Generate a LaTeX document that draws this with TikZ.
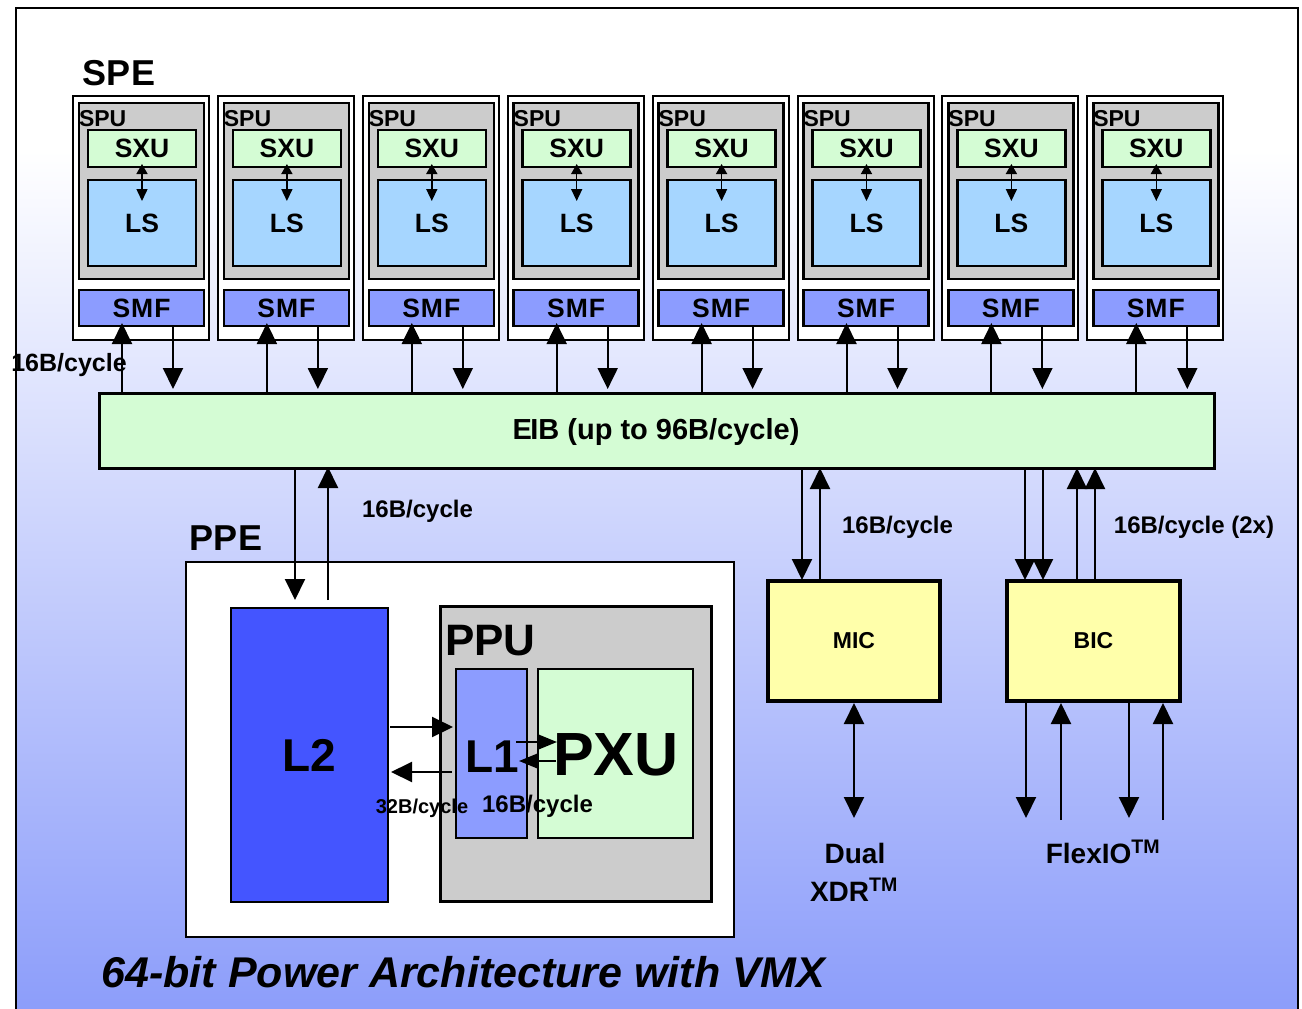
\documentclass[tikz,border=0pt]{standalone}
\usepackage{fontspec}
\setmainfont{Liberation Sans}
\usetikzlibrary{arrows.meta,calc}
\definecolor{bgblue}{RGB}{140,157,250}
\definecolor{spugray}{RGB}{204,204,204}
\definecolor{lgreen}{RGB}{212,252,212}
\definecolor{lsblue}{RGB}{166,214,255}
\definecolor{smfblue}{RGB}{140,156,255}
\definecolor{ltwo}{RGB}{68,85,255}
\definecolor{cyel}{RGB}{255,255,170}
\newcommand{\fsz}[1]{\fontsize{#1}{#1}\selectfont\bfseries}
\begin{document}
\begin{tikzpicture}[x=1pt,y=-1pt,
  blk/.style={draw=black, inner sep=0pt, outer sep=0pt, anchor=north west},
  lbl/.style={inner sep=0pt, outer sep=0pt, anchor=base},
  bigarr/.style={line width=2pt, -{Triangle[width=20pt,length=21pt]}},
  bigboth/.style={line width=2pt, {Triangle[width=20pt,length=21pt]}-{Triangle[width=20pt,length=21pt]}},
  midarr/.style={line width=2pt, -{Triangle[width=15pt,length=19pt]}},
  smallboth/.style={line width=1.5pt, {Triangle[width=11pt,length=10pt]}-{Triangle[width=11pt,length=12pt]}}
]
\useasboundingbox (0,0) rectangle (1302,1009);
% background
\fill[white] (0,0) rectangle (1302,1009);
\fill[white] (16,8) rectangle (1298,150);
\shade[top color=white, bottom color=bgblue] (16,150) rectangle (1298,1012);
\draw[line width=2pt] (16,1015) -- (16,8) -- (1298,8) -- (1298,1015);

% EIB
\node[blk, fill=lgreen, line width=3pt, minimum width=1115pt, minimum height=75pt] (eib) at (99,393) {};
\node[lbl] (teib) at (656,439) {\fsz{29}E\kern-1.5pt IB (up to 96B/cycle)};

% SPE columns
\foreach \i in {0,...,7}{
  \pgfmathsetmacro\xo{73+144.9*\i}
  \node[blk, fill=white, line width=2pt, minimum width=136pt, minimum height=244pt] (spe\i) at (\xo,96) {};
  \node[blk, fill=spugray, line width=2.5pt, minimum width=125pt, minimum height=176pt] (spu\i) at (\xo+6,103) {};
  \node[blk, fill=lgreen, line width=2.5pt, minimum width=108pt, minimum height=37pt] (sxu\i) at (\xo+15,130) {\fsz{26.5}SXU};
  \node[blk, fill=lsblue, line width=2.5pt, minimum width=108pt, minimum height=86pt] (ls\i) at (\xo+15,180) {\fsz{26.5}LS};
  \node[blk, fill=smfblue, line width=2.5pt, minimum width=125pt, minimum height=36pt] (smf\i) at (\xo+6,290) {\fsz{26.5}S\kern1pt M\kern1pt F};
  \node[inner sep=0pt, outer sep=0pt, anchor=base west] (tspu\i) at (\xo+6,126) {\fsz{23}SPU};
  \draw[smallboth] ($(sxu\i.south)+(0,-3)$) -- ($(ls\i.north)+(0,21)$);
  \coordinate (cu\i) at (\xo+49,0);
  \coordinate (cd\i) at (\xo+100,0);
  \draw[bigarr, shorten >=-3pt] (eib.north -| cu\i) -- (smf\i.south -| cu\i);
  \draw[bigarr, shorten >=4pt] (smf\i.south -| cd\i) -- (eib.north -| cd\i);
}
\node[lbl] (tspe) at (119,85) {\fsz{36}SPE};
\node[lbl] (t16a) at (69,371) {\fsz{25}16B/cycle};

% PPE
\node[blk, fill=white, line width=1.5pt, minimum width=548pt, minimum height=375pt] (ppe) at (186,562) {};
\node[lbl] (tppe) at (226,550) {\fsz{36}PPE};
\node[blk, fill=ltwo, line width=2pt, minimum width=157pt, minimum height=294pt] (l2) at (231,608) {\fsz{46}L2};
\node[blk, fill=spugray, line width=3pt, minimum width=271pt, minimum height=295pt] (ppu) at (440,606) {};
\node[inner sep=0pt, outer sep=0pt, anchor=base west] (tppu) at (445,655) {\fsz{44}PPU};
\node[blk, fill=smfblue, line width=2pt, minimum width=71pt, minimum height=169pt] (l1) at (456,669) {};
\node[blk, fill=lgreen, line width=2pt, minimum width=155pt, minimum height=169pt] (pxu) at (538,669) {};
\node[inner sep=0pt, outer sep=0pt, anchor=base west] (tl1) at (465,772) {\fsz{46}L1};
\node[lbl] (tpxu) at (616,775) {\fsz{61}PXU};

% EIB <-> PPE
\coordinate (p1) at (295,0);
\coordinate (p2) at (328,0);
\draw[bigarr, shorten >=8pt] (eib.south -| p1) -- (l2.north -| p1);
\draw[bigarr, shorten <=8pt, shorten >=-1pt] (l2.north -| p2) -- (eib.south -| p2);
\node[lbl] (t16b) at (417.5,517) {\fsz{24}16B/cycle};

% L2 <-> L1
\coordinate (r1) at (0,727);
\coordinate (r2) at (0,772);
\draw[bigarr, shorten <=2pt, shorten >=3pt] (l2.east |- r1) -- (l1.west |- r1);
\draw[bigarr, shorten <=4pt, shorten >=3pt] (l1.west |- r2) -- (l2.east |- r2);
% L1 <-> PXU
\coordinate (q1) at (516,742);
\coordinate (q2) at (557,742);
\coordinate (q3) at (556,761);
\coordinate (q4) at (519,761);
\draw[midarr] (q1) -- (q2);
\draw[midarr] (q3) -- (q4);
\node[lbl] (t32) at (422,813) {\fsz{20}32B/cycle};
\node[lbl] (t16c) at (537.5,812) {\fsz{24}16B/cycle};

% MIC / BIC
\node[blk, fill=cyel, line width=3.5pt, minimum width=172pt, minimum height=120pt] (mic) at (768,581) {\fsz{23}MIC};
\node[blk, fill=cyel, line width=3.5pt, minimum width=173pt, minimum height=120pt] (bic) at (1007,581) {\fsz{23}BIC};

\coordinate (m1) at (802,0);
\coordinate (m2) at (820,0);
\draw[bigarr, shorten >=1pt] (eib.south -| m1) -- (mic.north -| m1);
\draw[bigarr] (mic.north -| m2) -- (eib.south -| m2);
\node[lbl] (t16d) at (897.5,533) {\fsz{24}16B/cycle};

\coordinate (b1) at (1025,0);
\coordinate (b2) at (1043,0);
\coordinate (b3) at (1077,0);
\coordinate (b4) at (1095,0);
\draw[bigarr, shorten >=1pt] (eib.south -| b1) -- (bic.north -| b1);
\draw[bigarr, shorten >=1pt] (eib.south -| b2) -- (bic.north -| b2);
\draw[bigarr] (bic.north -| b3) -- (eib.south -| b3);
\draw[bigarr] (bic.north -| b4) -- (eib.south -| b4);
\node[lbl] (t16e) at (1194,533) {\fsz{24}16B/cycle (2x)};

% MIC -> Dual XDR
\coordinate (dx) at (854,818);
\draw[bigboth, shorten <=2pt] (mic.south) -- (dx);
\node[lbl] (tdual) at (855,863) {\fsz{28}Dual};
\node[lbl] (txdr) at (854,901) {\fsz{28}XDR\textsuperscript{TM}};

% BIC -> FlexIO
\coordinate (f1) at (1026,818);
\coordinate (f2) at (1061,820);
\coordinate (f3) at (1129,818);
\coordinate (f4) at (1163,820);
\draw[bigarr] (bic.south -| f1) -- (f1);
\draw[bigarr, shorten >=2pt] (f2) -- (bic.south -| f2);
\draw[bigarr] (bic.south -| f3) -- (f3);
\draw[bigarr, shorten >=2pt] (f4) -- (bic.south -| f4);
\node[lbl] (tflex) at (1103,863) {\fsz{28}FlexIO\textsuperscript{TM}};

% bottom caption
\node[lbl] (tcap) at (463.5,987) {\fontsize{43}{43}\selectfont\bfseries\itshape 64-bit Power Architecture with VMX};
\end{tikzpicture}
\end{document}
